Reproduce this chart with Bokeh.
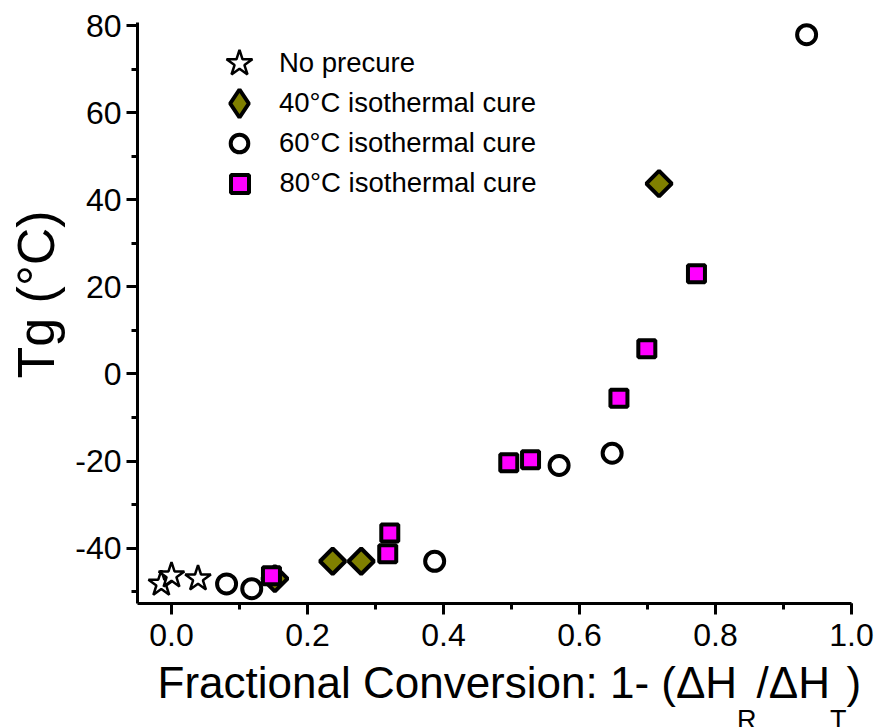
import math
from bokeh.plotting import figure
from bokeh.models import Range1d, SingleIntervalTicker, Legend, LegendItem, Label
from bokeh.embed import file_html
from bokeh.resources import INLINE

# ---- data ----
no_precure_x = [-0.015, 0.000, 0.039]
no_precure_y = [-48.2, -46.3, -47.0]

cure40_x = [0.152, 0.237, 0.279, 0.717]
cure40_y = [-47.0, -43.0, -43.0, 43.7]

cure60_x = [0.081, 0.118, 0.387, 0.570, 0.648, 0.934]
cure60_y = [-48.2, -49.3, -43.0, -21.0, -18.2, 77.9]

cure80_x = [0.147, 0.318, 0.321, 0.496, 0.528, 0.658, 0.699, 0.772]
cure80_y = [-46.3, -41.3, -36.5, -20.4, -19.7, -5.6, 5.8, 23.0]

series_labels = ["No precure", "40°C isothermal cure",
                 "60°C isothermal cure", "80°C isothermal cure"]

x_ticks_interval = 0.2
y_ticks_interval = 20
x_bounds = (-0.05, 1.0)
y_bounds = (-52.7, 80.7)
x_tick_text = {0: "0.0", 1: "1.0"}
y_tick_text = {-40: "-40", -20: "-20"}

FONT = "Liberation Sans"
W_PX, H_PX = 878, 727
# placement of the axes box inside the canvas (pixels)
AX_L, AX_R, AX_T, AX_B = 137, 851, 22, 603
xs = (x_bounds[1] - x_bounds[0]) / (AX_R - AX_L)
ys = (y_bounds[1] - y_bounds[0]) / (AX_B - AX_T)

p = figure(width=W_PX, height=H_PX,
           x_range=Range1d(x_bounds[0] - AX_L * xs, x_bounds[1] + (W_PX - AX_R) * xs),
           y_range=Range1d(y_bounds[0] - (H_PX - AX_B) * ys, y_bounds[1] + AX_T * ys),
           output_backend="svg", toolbar_location=None, min_border=0)
p.outline_line_color = None
p.xgrid.visible = False
p.ygrid.visible = False
p.background_fill_color = "white"
p.border_fill_color = "white"

xa, ya = p.xaxis[0], p.yaxis[0]
for ax in (xa, ya):
    ax.axis_line_width = 3
    ax.axis_line_color = "black"
    ax.major_tick_line_width = 3
    ax.minor_tick_line_width = 3
    ax.major_tick_in = 0
    ax.minor_tick_in = 0
    ax.major_tick_out = 11
    ax.minor_tick_out = 6
    ax.major_label_text_font = FONT
    ax.major_label_text_font_size = "32px"
    ax.major_label_text_color = "black"
    ax.axis_label = None

xa.ticker = SingleIntervalTicker(interval=x_ticks_interval, num_minor_ticks=2)
ya.ticker = SingleIntervalTicker(interval=y_ticks_interval, num_minor_ticks=2)
xa.fixed_location = y_bounds[0]
ya.fixed_location = x_bounds[0]
xa.bounds = x_bounds
ya.bounds = y_bounds
xa.major_label_standoff = 9
ya.major_label_standoff = 5
xa.major_label_overrides = x_tick_text
ya.major_label_overrides = y_tick_text

# glyphs
r_star = p.scatter(no_precure_x, no_precure_y, marker="star", size=27,
                   fill_color="white", line_color="black", line_width=2.5)
r60 = p.scatter(cure60_x, cure60_y, marker="circle", size=19,
                fill_color="white", line_color="black", line_width=4)
# legend key for the 40 C series (legend keys are drawn unrotated); it sits
# underneath the rotated squares drawn next, so it is hidden in the plot area
r40_key = p.scatter(cure40_x, cure40_y, marker="diamond", size=14,
                    fill_color="#808000", line_color="black", line_width=4)
r40 = p.scatter(cure40_x, cure40_y, marker="square", size=18, angle=math.pi / 4,
                fill_color="#808000", line_color="black", line_width=4)
r80 = p.scatter(cure80_x, cure80_y, marker="square", size=17,
                fill_color="#FF00FF", line_color="black", line_width=4)

# legend: one entry per Legend so each key can have its own size
GLYPH_CX, TEXT_X = 239, 279
rows = [(series_labels[0], r_star, 63, 68),
        (series_labels[1], r40_key, 103, 70),
        (series_labels[2], r60, 143, 44),
        (series_labels[3], r80, 183, 45)]
for lab, rend, cy, gs in rows:
    p.add_layout(Legend(items=[LegendItem(label=lab, renderers=[rend])],
                        location=(GLYPH_CX - gs / 2, H_PX - cy - gs / 2),
                        glyph_width=gs, glyph_height=gs,
                        label_standoff=int(round(TEXT_X - GLYPH_CX - gs / 2)),
                        padding=0, margin=0, spacing=0,
                        border_line_color=None, background_fill_alpha=0,
                        label_text_font=FONT, label_text_font_size="27.5px",
                        label_text_color="black"))

# y axis title
p.add_layout(Label(x=35, y=H_PX - 294, x_units="screen", y_units="screen",
                   text="Tg (°C)", angle=math.pi / 2, text_align="center",
                   text_baseline="alphabetic", text_font=FONT,
                   text_font_size="52px", text_color="black"))

# x axis title with subscripts
W = {'F': .611, 'r': .333, 'a': .556, 'c': .5, 't': .278, 'i': .222, 'o': .556,
     'n': .556, 'l': .222, ' ': .278, 'C': .722, 'v': .5, 'e': .556, 's': .5,
     ':': .278, '1': .556, '-': .333, '(': .333, 'Δ': .668, 'H': .722, 'R': .722,
     '/': .278, 'T': .611, ')': .333}
MAIN, SUB = 44, 27
BASE, SUBBASE = H_PX - 682, H_PX - 719
pieces = [("Fractional Conversion: 1- (ΔH", MAIN, BASE), ("R", SUB, SUBBASE),
          ("/ΔH", MAIN, BASE), ("T", SUB, SUBBASE), (")", MAIN, BASE)]
xpos = 157.0
for txt, fs, yb in pieces:
    p.add_layout(Label(x=xpos, y=yb, x_units="screen", y_units="screen", text=txt,
                       text_align="left", text_baseline="alphabetic",
                       text_font=FONT, text_font_size=f"{fs}px", text_color="black"))
    xpos += sum(W[ch] for ch in txt) * fs

open("out.html", "w").write(file_html(p, INLINE))
